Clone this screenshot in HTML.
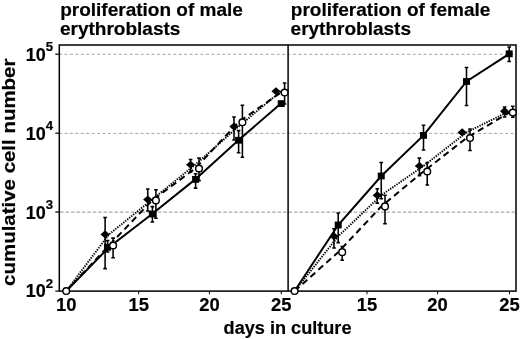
<!DOCTYPE html><html><head><meta charset="utf-8"><title>proliferation</title>
<style>html,body{margin:0;padding:0;background:#fff}svg{display:block}text{font-family:"Liberation Sans",Arial,sans-serif;font-weight:bold;fill:#000;stroke:#000;stroke-width:0.2px}</style></head><body>
<svg width="520" height="339" viewBox="0 0 520 339">
<rect width="520" height="339" fill="#fff"/>
<line x1="59.0" x2="516" y1="54.3" y2="54.3" stroke="#9a9a9a" stroke-width="0.9" stroke-dasharray="3.0 2.4400000000000004"/>
<line x1="59.0" x2="516" y1="133.4" y2="133.4" stroke="#9a9a9a" stroke-width="0.9" stroke-dasharray="3.0 2.4400000000000004"/>
<line x1="60.05" x2="516" y1="212.1" y2="212.1" stroke="#a8a8a8" stroke-width="1.3" stroke-dasharray="3.5 1.9400000000000004"/>
<rect x="59.3" y="45" width="456.7" height="246.10000000000002" fill="none" stroke="#000" stroke-width="1.5"/>
<line x1="288.1" x2="288.1" y1="45" y2="291.1" stroke="#000" stroke-width="1.5"/>
<line x1="55.3" x2="59.3" y1="54.2" y2="54.2" stroke="#000" stroke-width="1.2"/>
<line x1="55.3" x2="59.3" y1="133.2" y2="133.2" stroke="#000" stroke-width="1.2"/>
<line x1="55.3" x2="59.3" y1="212.0" y2="212.0" stroke="#000" stroke-width="1.2"/>
<line x1="55.3" x2="59.3" y1="291.1" y2="291.1" stroke="#000" stroke-width="1.2"/>
<line x1="66.2" x2="66.2" y1="291.1" y2="294.3" stroke="#000" stroke-width="1"/>
<line x1="138.7" x2="138.7" y1="291.1" y2="294.3" stroke="#000" stroke-width="1"/>
<line x1="209.4" x2="209.4" y1="291.1" y2="294.3" stroke="#000" stroke-width="1"/>
<line x1="281.25" x2="281.25" y1="291.1" y2="294.3" stroke="#000" stroke-width="1"/>
<line x1="367" x2="367" y1="291.1" y2="294.3" stroke="#000" stroke-width="1"/>
<line x1="437.6" x2="437.6" y1="291.1" y2="294.3" stroke="#000" stroke-width="1"/>
<line x1="509.5" x2="509.5" y1="291.1" y2="294.3" stroke="#000" stroke-width="1"/>
<line x1="294.6" x2="294.6" y1="291.1" y2="294.3" stroke="#000" stroke-width="1"/>
<polyline points="66.2,291.0 109,245.5 152.1,200.4 195.2,168.5 238.4,122.25 280.9,92.5" fill="none" stroke="#000" stroke-width="2" stroke-dasharray="6.4 4.2"/>
<polyline points="66.2,291.0 109,234.4 152.1,199.5 195.2,164.75 238.4,126.6 280.9,91.25" fill="none" stroke="#000" stroke-width="1.9" stroke-dasharray="1.35 1.2"/>
<polyline points="66.2,291.0 109,247.3 152.1,214.0 195.2,179.4 238.4,140.25 280.9,103.6" fill="none" stroke="#000" stroke-width="2"/>
<path d="M105.1,217.5V268.6M103.3,217.5H106.89999999999999M103.3,268.6H106.89999999999999" stroke="#000" stroke-width="1.55" fill="none"/>
<path d="M147.75,188.9V211M145.95,188.9H149.55M145.95,211H149.55" stroke="#000" stroke-width="1.55" fill="none"/>
<path d="M190.6,159.4V172M188.79999999999998,159.4H192.4M188.79999999999998,172H192.4" stroke="#000" stroke-width="1.55" fill="none"/>
<path d="M234,116.9V140M232.2,116.9H235.8M232.2,140H235.8" stroke="#000" stroke-width="1.55" fill="none"/>
<path d="M107.6,240.6V252M105.8,240.6H109.39999999999999M105.8,252H109.39999999999999" stroke="#000" stroke-width="1.55" fill="none"/>
<path d="M152.4,206.6V222M150.6,206.6H154.20000000000002M150.6,222H154.20000000000002" stroke="#000" stroke-width="1.55" fill="none"/>
<path d="M195.6,173.75V188.1M193.79999999999998,173.75H197.4M193.79999999999998,188.1H197.4" stroke="#000" stroke-width="1.55" fill="none"/>
<path d="M238.6,130.6V152.75M236.79999999999998,130.6H240.4M236.79999999999998,152.75H240.4" stroke="#000" stroke-width="1.55" fill="none"/>
<path d="M113.1,238.1V257.75M111.3,238.1H114.89999999999999M111.3,257.75H114.89999999999999" stroke="#000" stroke-width="1.55" fill="none"/>
<path d="M155.9,189.75V218.25M154.1,189.75H157.70000000000002M154.1,218.25H157.70000000000002" stroke="#000" stroke-width="1.55" fill="none"/>
<path d="M199,158.1V180.6M197.2,158.1H200.8M197.2,180.6H200.8" stroke="#000" stroke-width="1.55" fill="none"/>
<path d="M242.4,105.25V157.25M240.6,105.25H244.20000000000002M240.6,157.25H244.20000000000002" stroke="#000" stroke-width="1.55" fill="none"/>
<path d="M284.6,82.9V104M282.8,82.9H286.40000000000003M282.8,104H286.40000000000003" stroke="#000" stroke-width="1.55" fill="none"/>
<path d="M100.5,234.4L105.1,230.3L109.69999999999999,234.4L105.1,238.5Z" fill="#000"/>
<path d="M143.15,199.5L147.75,195.4L152.35,199.5L147.75,203.6Z" fill="#000"/>
<path d="M186.0,164.75L190.6,160.65L195.2,164.75L190.6,168.85Z" fill="#000"/>
<path d="M229.4,126.6L234,122.5L238.6,126.6L234,130.7Z" fill="#000"/>
<path d="M271.4,91.25L276,87.15L280.6,91.25L276,95.35Z" fill="#000"/>
<rect x="104.1" y="243.9" width="7" height="6.8" fill="#000"/>
<rect x="148.9" y="210.6" width="7" height="6.8" fill="#000"/>
<rect x="192.1" y="176.0" width="7" height="6.8" fill="#000"/>
<rect x="235.1" y="136.85" width="7" height="6.8" fill="#000"/>
<rect x="277.75" y="100.19999999999999" width="7" height="6.8" fill="#000"/>
<circle cx="113.1" cy="245.5" r="3.35" fill="#fff" stroke="#000" stroke-width="1.45"/>
<circle cx="155.9" cy="200.4" r="3.35" fill="#fff" stroke="#000" stroke-width="1.45"/>
<circle cx="199" cy="168.5" r="3.35" fill="#fff" stroke="#000" stroke-width="1.45"/>
<circle cx="242.4" cy="122.25" r="3.35" fill="#fff" stroke="#000" stroke-width="1.45"/>
<circle cx="284.6" cy="92.5" r="3.35" fill="#fff" stroke="#000" stroke-width="1.45"/>
<circle cx="66.2" cy="291.0" r="3.35" fill="#fff" stroke="#000" stroke-width="1.45"/>
<polyline points="294.6,291.0 338.2,252.2 381.3,206.4 423.5,171.5 466.5,138 509.2,112.6" fill="none" stroke="#000" stroke-width="2" stroke-dasharray="6.4 4.2"/>
<polyline points="294.6,291.0 338.2,236.3 381.3,195.25 423.5,166 466.5,132.4 509.2,111.2" fill="none" stroke="#000" stroke-width="1.9" stroke-dasharray="1.35 1.2"/>
<polyline points="294.6,291.0 338.2,225 381.3,176 423.5,135.4 466.5,81.5 509.2,53.8" fill="none" stroke="#000" stroke-width="2"/>
<path d="M334,228.8V248M332.2,228.8H335.8M332.2,248H335.8" stroke="#000" stroke-width="1.55" fill="none"/>
<path d="M377.25,188.75V203.1M375.45,188.75H379.05M375.45,203.1H379.05" stroke="#000" stroke-width="1.55" fill="none"/>
<path d="M419.4,158.1V175.6M417.59999999999997,158.1H421.2M417.59999999999997,175.6H421.2" stroke="#000" stroke-width="1.55" fill="none"/>
<path d="M504.6,107V117M502.8,107H506.40000000000003M502.8,117H506.40000000000003" stroke="#000" stroke-width="1.55" fill="none"/>
<path d="M338.2,213V242.6M336.4,213H340.0M336.4,242.6H340.0" stroke="#000" stroke-width="1.55" fill="none"/>
<path d="M381.25,162.5V198.75M379.45,162.5H383.05M379.45,198.75H383.05" stroke="#000" stroke-width="1.55" fill="none"/>
<path d="M423.5,125.25V150M421.7,125.25H425.3M421.7,150H425.3" stroke="#000" stroke-width="1.55" fill="none"/>
<path d="M466.5,67.4V105.4M464.7,67.4H468.3M464.7,105.4H468.3" stroke="#000" stroke-width="1.55" fill="none"/>
<path d="M509.2,46.9V61.5M507.4,46.9H511.0M507.4,61.5H511.0" stroke="#000" stroke-width="1.55" fill="none"/>
<path d="M342.2,246.4V260.2M340.4,246.4H344.0M340.4,260.2H344.0" stroke="#000" stroke-width="1.55" fill="none"/>
<path d="M385,195.25V223.75M383.2,195.25H386.8M383.2,223.75H386.8" stroke="#000" stroke-width="1.55" fill="none"/>
<path d="M427.25,162.5V185M425.45,162.5H429.05M425.45,185H429.05" stroke="#000" stroke-width="1.55" fill="none"/>
<path d="M470,128.9V150.5M468.2,128.9H471.8M468.2,150.5H471.8" stroke="#000" stroke-width="1.55" fill="none"/>
<path d="M512.8,106.2V117.2M510.99999999999994,106.2H514.5999999999999M510.99999999999994,117.2H514.5999999999999" stroke="#000" stroke-width="1.55" fill="none"/>
<path d="M329.4,236.3L334,232.20000000000002L338.6,236.3L334,240.4Z" fill="#000"/>
<path d="M372.65,195.25L377.25,191.15L381.85,195.25L377.25,199.35Z" fill="#000"/>
<path d="M414.79999999999995,166L419.4,161.9L424.0,166L419.4,170.1Z" fill="#000"/>
<path d="M457.59999999999997,132.4L462.2,128.3L466.8,132.4L462.2,136.5Z" fill="#000"/>
<path d="M500.0,111.2L504.6,107.10000000000001L509.20000000000005,111.2L504.6,115.3Z" fill="#000"/>
<rect x="334.7" y="221.6" width="7" height="6.8" fill="#000"/>
<rect x="377.75" y="172.6" width="7" height="6.8" fill="#000"/>
<rect x="420.0" y="132.0" width="7" height="6.8" fill="#000"/>
<rect x="463.0" y="78.1" width="7" height="6.8" fill="#000"/>
<rect x="505.7" y="50.4" width="7" height="6.8" fill="#000"/>
<circle cx="342.2" cy="252.2" r="3.35" fill="#fff" stroke="#000" stroke-width="1.45"/>
<circle cx="385" cy="206.4" r="3.35" fill="#fff" stroke="#000" stroke-width="1.45"/>
<circle cx="427.25" cy="171.5" r="3.35" fill="#fff" stroke="#000" stroke-width="1.45"/>
<circle cx="470" cy="138" r="3.35" fill="#fff" stroke="#000" stroke-width="1.45"/>
<circle cx="512.8" cy="112.6" r="3.35" fill="#fff" stroke="#000" stroke-width="1.45"/>
<circle cx="294.6" cy="291.0" r="3.35" fill="#fff" stroke="#000" stroke-width="1.45"/>
<text transform="translate(66.2,311.4) scale(0.97,1)" font-size="19" text-anchor="middle">10</text>
<text transform="translate(138.7,311.4) scale(0.97,1)" font-size="19" text-anchor="middle">15</text>
<text transform="translate(209.4,311.4) scale(0.97,1)" font-size="19" text-anchor="middle">20</text>
<text transform="translate(281.25,311.4) scale(0.97,1)" font-size="19" text-anchor="middle">25</text>
<text transform="translate(367,311.4) scale(0.97,1)" font-size="19" text-anchor="middle">15</text>
<text transform="translate(437.6,311.4) scale(0.97,1)" font-size="19" text-anchor="middle">20</text>
<text transform="translate(509.5,311.4) scale(0.97,1)" font-size="19" text-anchor="middle">25</text>
<text x="25.8" y="61.1" font-size="18">10<tspan font-size="13.2" dy="-10.3">5</tspan></text>
<text x="25.8" y="139.89999999999998" font-size="18">10<tspan font-size="13.2" dy="-10.3">4</tspan></text>
<text x="25.8" y="219.0" font-size="18">10<tspan font-size="13.2" dy="-10.3">3</tspan></text>
<text x="25.8" y="297.1" font-size="18">10<tspan font-size="13.2" dy="-9.6">2</tspan></text>
<text x="60.2" y="15.7" font-size="19">proliferation of male</text>
<text x="60.0" y="34.9" font-size="19">erythroblasts</text>
<text x="290.8" y="15.7" font-size="19">proliferation of female</text>
<text x="290.6" y="34.9" font-size="19">erythroblasts</text>
<text transform="translate(223.6,334.3) scale(0.945,1)" font-size="19.2">days in culture</text>
<text transform="translate(14.9,285.9) rotate(-90) scale(1.077,1)" font-size="19">cumulative cell number</text>
</svg></body></html>
